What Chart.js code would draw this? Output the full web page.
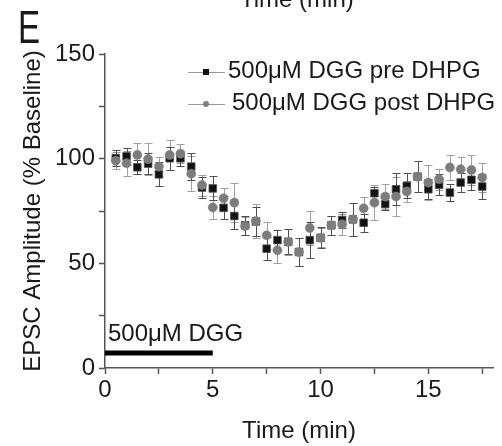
<!DOCTYPE html>
<html>
<head>
<meta charset="utf-8">
<script src="https://cdn.jsdelivr.net/npm/chart.js@4.4.1/dist/chart.umd.min.js"></script>
<style>
  body { margin: 0; background: #fff; font-family: "Liberation Sans", Arial, sans-serif; color: #1a1a1a; }
  #wrap { position: relative; width: 502px; height: 446px; overflow: hidden; }
  #wrap canvas { position: absolute; left: 0; top: 0; }
  .txt { position: absolute; white-space: nowrap; line-height: 24px; font-size: 24px; }
  .sym { position: absolute; width: 37px; height: 1px; background: #999; }
  .mk { position: absolute; left: 15px; top: -3px; width: 6px; height: 6px; }
</style>
</head>
<body>
<div id="wrap">
  <canvas id="epscChart" width="502" height="446"></canvas>
  <!-- bits of text around the plot -->
  <div class="txt" style="left:240px; top:-13px;">Time (min)</div>
  <div class="txt" style="left:18px; top:4px; font-size:46px; line-height:46px; transform:scaleX(0.72); transform-origin:left top;">E</div>
  <div class="sym" style="left:188px; top:72px;"><div class="mk" style="background:#111;"></div></div>
  <div class="txt" style="left:228px; top:58px;">500μM DGG pre DHPG</div>
  <div class="sym" style="left:188px; top:104px;"><div class="mk" style="background:#808080; border-radius:50%;"></div></div>
  <div class="txt" style="left:232px; top:90px;">500μM DGG post DHPG</div>
  <div class="txt" style="left:108px; top:321px;">500μM DGG</div>
</div>
<script>
// --- data ---
const times = [0.5, 1.0, 1.5, 2.0, 2.5, 3.0, 3.5, 4.0, 4.5, 5.0, 5.5, 6.0, 6.5, 7.0, 7.5, 8.0, 8.5, 9.0,
               9.5, 10.0, 10.5, 11.0, 11.5, 12.0, 12.5, 13.0, 13.5, 14.0, 14.5, 15.0, 15.5, 16.0, 16.5, 17.0, 17.5];

const preDHPG = [100.3, 101.1, 95.9, 97.6, 92.5, 100.2, 100.2, 96.2, 86.2, 85.8, 76.5, 72.6, 68.2, 70.0, 57.0, 61.1, 60.3, 55.4,
                 61.1, 62.2, 68.2, 70.7, 71.0, 69.4, 83.5, 78.3, 85.4, 87.0, 91.4, 85.4, 87.5, 83.8, 88.6, 89.9, 86.7];
const preErr = [4, 4, 3.3, 5, 5.7, 5.5, 3.6, 6.4, 5, 5.7, 5.5, 6, 4.5, 7, 5.5, 5, 6, 6.5,
                8.6, 5, 4.5, 4, 8, 4.4, 3.2, 3, 7.6, 6, 7.5, 4.8, 5, 4, 4.5, 5, 6];

const postDHPG = [99.0, 97.8, 101.8, 99.8, 96.2, 101.8, 102.4, 92.8, 87.4, 76.7, 81.1, 79.0, 67.8, 70.2, 63.4, 56.3, 60.2, 55.4,
                  66.9, 62.2, 68.2, 68.6, 71.0, 76.3, 79.0, 81.9, 81.9, 84.3, 91.4, 88.6, 90.2, 95.8, 95.0, 94.6, 91.0];
const postErr = [4, 6, 5.7, 7.7, 4.6, 7, 4.5, 8.3, 5, 5.3, 5, 9.3, 4.5, 8, 6.4, 6, 6, 6.5,
                 8, 4.5, 4.5, 5, 8, 5.5, 8.4, 6, 9.3, 5, 7.5, 8.4, 5, 6, 6, 7, 7];

// drug application bar (min) and its height on the y axis
const dggStart = 0;
const dggEnd = 5;
const dggLevel = 7.2;

const xTicksLabelled = [0, 5, 10, 15];
const yTicksLabelled = [0, 50, 100, 150];

const toPoints = (vals) => vals.map((v, i) => ({ x: times[i], y: v }));

// --- error bars plugin ---
const errorBars = {
    id: 'errorBars',
    beforeDatasetsDraw(chart) {
        const { ctx, scales: { x, y } } = chart;
        chart.data.datasets.forEach((ds) => {
            if (!ds.errors) return;
            ctx.save();
            ctx.strokeStyle = ds.errorColor;
            ctx.lineWidth = 1;
            ds.data.forEach((p, j) => {
                const px = Math.round(x.getPixelForValue(p.x)) + 0.5;
                const top = Math.round(y.getPixelForValue(p.y + ds.errors[j])) + 0.5;
                const bot = Math.round(y.getPixelForValue(p.y - ds.errors[j])) + 0.5;
                ctx.beginPath();
                ctx.moveTo(px, top); ctx.lineTo(px, bot);
                ctx.moveTo(px - 4, top); ctx.lineTo(px + 4, top);
                ctx.moveTo(px - 4, bot); ctx.lineTo(px + 4, bot);
                ctx.stroke();
            });
            ctx.restore();
        });
    }
};

const fontMain = { family: '"Liberation Sans", Arial, sans-serif', size: 24 };

const ctx = document.getElementById('epscChart').getContext('2d');
const epscChart = new Chart(ctx, {
    type: 'scatter',
    data: {
        datasets: [
            {
                label: '500μM DGG post DHPG',
                data: toPoints(postDHPG),
                errors: postErr,
                errorColor: '#a0a0a0',
                pointStyle: 'circle',
                pointRadius: 4.6,
                backgroundColor: '#7c7c7c',
                borderColor: '#8a8a8a',
                borderWidth: 0.5
            },
            {
                label: '500μM DGG pre DHPG',
                data: toPoints(preDHPG),
                errors: preErr,
                errorColor: '#505050',
                pointStyle: 'rect',
                pointRadius: 5.4,
                backgroundColor: '#111111',
                borderColor: '#555555',
                borderWidth: 0.8
            },
            {
                label: 'DGG',
                data: [{ x: dggStart, y: dggLevel }, { x: dggEnd, y: dggLevel }],
                showLine: true,
                borderColor: '#000',
                borderWidth: 5,
                borderCapStyle: 'butt',
                pointRadius: 0
            }
        ]
    },
    options: {
        responsive: false,
        animation: false,
        devicePixelRatio: 1,
        layout: { padding: { top: 54, right: 9, left: 0, bottom: 0 } },
        plugins: { legend: { display: false }, tooltip: { enabled: false } },
        scales: {
            x: {
                type: 'linear',
                min: 0, max: 18,
                afterFit: (s) => { s.height = 78; },
                border: { color: '#555', width: 1.5 },
                grid: { drawOnChartArea: false, drawTicks: true, tickLength: 6, tickColor: '#555', tickWidth: 1.5 },
                ticks: {
                    stepSize: 2.5,
                    includeBounds: false,
                    maxRotation: 0,
                    autoSkip: false,
                    padding: 2,
                    color: '#1a1a1a',
                    font: fontMain,
                    callback: (v) => xTicksLabelled.includes(v) ? String(v) : ''
                },
                title: { display: true, text: 'Time (min)', color: '#1a1a1a', font: fontMain, padding: { top: 3, bottom: 0 } }
            },
            y: {
                min: 0, max: 150,
                afterFit: (s) => { s.width = 105; },
                border: { color: '#555', width: 1.5 },
                grid: { drawOnChartArea: false, drawTicks: true, tickLength: 6, tickColor: '#555', tickWidth: 1.5 },
                ticks: {
                    stepSize: 25,
                    autoSkip: false,
                    padding: 4,
                    color: '#1a1a1a',
                    font: fontMain,
                    callback: (v) => yTicksLabelled.includes(v) ? String(v) : ''
                },
                title: { display: true, text: 'EPSC Amplitude (% Baseline)', color: '#1a1a1a', font: fontMain, padding: { top: 19, bottom: 0 } }
            }
        }
    },
    plugins: [errorBars]
});
</script>
</body>
</html>
